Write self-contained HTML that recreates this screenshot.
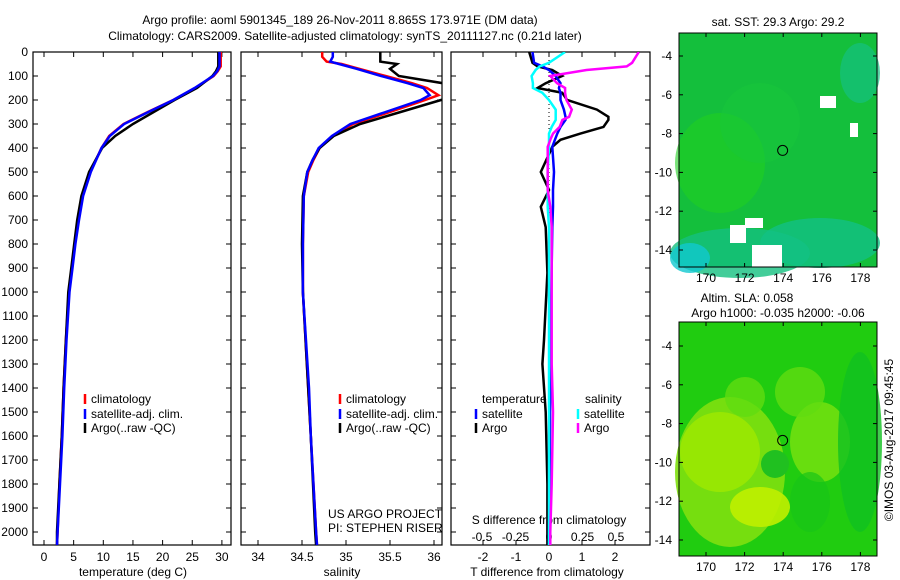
<!DOCTYPE html>
<html><head><meta charset="utf-8"><style>
body{margin:0;background:#fff;}
svg{display:block;font-family:"Liberation Sans",sans-serif;font-size:12px;}
</style></head><body>
<svg id="c" width="900" height="580" xmlns="http://www.w3.org/2000/svg"></svg>
<script>
// ---- data ----
const depthTicks=[0,100,200,300,400,500,600,700,800,900,1000,1100,1200,1300,1400,1500,1600,1700,1800,1900,2000];
const tempTicks=[0,5,10,15,20,25,30];
const salTicks=[34,34.5,35,35.5,36];
const tdTicks=[-2,-1,0,1,2];
const sdTicks=[-0.5,-0.25,0,0.25,0.5];
const lonTicks=[170,172,174,176,178];
const latTicks=[-4,-6,-8,-10,-12,-14];

const tDepth=[0,60,80,100,150,200,250,300,350,400,500,600,700,800,900,1000,1200,1400,1600,1800,2000,2055];
const tClim=[29.8,29.8,29.3,28.6,25.5,21.8,17.5,13.4,11.0,9.7,7.8,6.5,5.8,5.2,4.7,4.2,3.7,3.3,3.0,2.6,2.3,2.2];
const tSat =[29.6,29.6,29.2,28.5,25.4,21.8,17.6,13.5,11.1,9.7,7.9,6.6,5.9,5.3,4.8,4.3,3.8,3.4,3.1,2.7,2.3,2.2];
const tArgo=[29.4,29.4,29.0,28.4,25.8,22.0,18.5,15.0,12.0,9.8,7.6,6.3,5.6,5.1,4.6,4.1,3.7,3.3,3.0,2.6,2.2,2.2];

const sDepth=[0,20,40,50,70,100,130,150,180,200,250,300,350,400,450,500,600,800,1000,1400,1600,2000,2055];
const sClim=[34.73,34.73,34.78,34.95,35.15,35.45,35.75,35.92,36.05,35.9,35.5,35.08,34.85,34.7,34.63,34.57,34.52,34.51,34.51,34.57,34.6,34.66,34.67];
const sSat =[34.85,34.85,34.82,34.92,35.12,35.4,35.7,35.88,35.95,35.85,35.45,35.05,34.84,34.69,34.62,34.56,34.52,34.51,34.51,34.58,34.6,34.66,34.67];
const sArgo=[35.39,35.39,35.39,35.58,35.5,35.6,36.1,36.3,36.3,36.08,35.62,35.16,34.86,34.7,34.62,34.56,34.51,34.50,34.51,34.57,34.6,34.65,34.66];

const dDepth=[0,45,60,75,100,130,150,170,200,240,270,283,312,340,366,395,500,575,645,730,920,1200,1300,1500,1800,2000,2055];
const tdSat =[-0.5,-0.45,-0.2,0,0.2,0.35,0.3,0.35,0.35,0.45,0.5,0.5,0.35,0.25,0.18,0.1,0.15,0.12,0.12,0.1,0.08,0.05,0.05,0.03,0.02,0,0];
const tdArgo=[-0.6,-0.5,-0.35,0.1,0.4,-0.1,-0.35,0.4,0.55,1.45,1.8,1.8,1.65,0.95,0.35,0.1,-0.25,0,-0.25,-0.1,-0.05,-0.15,-0.2,-0.1,-0.05,-0.05,-0.05];
const sdSat =[0.12,0.0,-0.07,-0.1,-0.13,-0.12,-0.12,-0.05,0,0.05,0.05,0.05,0.02,0,0,0,-0.01,-0.01,-0.01,0,0,0,0,0,0,0,0];
const sdArgo=[0.67,0.62,0.58,0.28,0.01,0.06,0.12,0.12,0.13,0.17,0.15,0.1,0.08,0.03,0.01,-0.01,-0.01,-0.01,0.01,0.02,0.02,0.02,0.02,0.03,0.02,0.01,0.01];

// ---- scales ----
const yD=d=>52+d*0.24;
const xT=t=>44+t*5.93;
const xS=s=>258+(s-34)*88;
const xTd=v=>549+v*33;
const xSd=v=>549+v*134;
const m1X=l=>706+(l-170)*19.3, m1Y=a=>56+(-4-a)*19.4;
const m2Y=a=>346+(-4-a)*19.4;

const svg=document.getElementById('c');
const NS='http://www.w3.org/2000/svg';
function mk(tag,attrs,txt){const e=document.createElementNS(NS,tag);for(const k in attrs)e.setAttribute(k,attrs[k]);if(txt!==undefined)e.textContent=txt;svg.appendChild(e);return e;}
function txt(x,y,s,anchor,name){const e=mk('text',{x:x,y:y,'text-anchor':anchor||'start'},s);

return e;}
function line(x1,y1,x2,y2,col,w,name){const e=mk('line',{x1:x1,y1:y1,x2:x2,y2:y2,stroke:col,'stroke-width':w||1});

return e;}
function series(xs,ds,fx,col,name,w){let p=ds.map((d,i)=>fx(xs[i]).toFixed(1)+','+yD(d).toFixed(1)).join(' ');
const e=mk('polyline',{points:p,fill:'none',stroke:col,'stroke-width':w||2.5,'clip-path':'url(#'+cur+')'});

}
let cur='';
const defs=mk('defs',{});
function clip(id,x,y,w,h){const c=document.createElementNS(NS,'clipPath');c.setAttribute('id',id);const r=document.createElementNS(NS,'rect');r.setAttribute('x',x);r.setAttribute('y',y);r.setAttribute('width',w);r.setAttribute('height',h);c.appendChild(r);defs.appendChild(c);}
clip('p1',33,52,198,493);clip('p2',241,52,201,493);clip('p3',451,52,199,493);

// titles
txt(340,24,'Argo profile: aoml 5901345_189 26-Nov-2011 8.865S 173.971E (DM data)','middle','title-line-1');
txt(345,40,'Climatology: CARS2009. Satellite-adjusted climatology: synTS_20111127.nc (0.21d later)','middle','title-line-2');

// panels
const panels=[[33,231,'p1'],[241,442,'p2'],[451,650,'p3']];
panels.forEach(([l,r,id],k)=>{
 const e=mk('rect',{x:l,y:52,width:r-l,height:493,fill:'none',stroke:'#000','stroke-width':1.2});
 
 
 depthTicks.forEach(d=>{line(l,yD(d),l+5,yD(d),'#000',1,'depth-tick');line(r-5,yD(d),r,yD(d),'#000',1,'depth-tick');});
});
depthTicks.forEach(d=>txt(28,yD(d)+4,String(d),'end','depth-label'));
tempTicks.forEach(t=>{line(xT(t),545,xT(t),540,'#000',1,'temp-tick');line(xT(t),52,xT(t),57,'#000',1,'temp-tick');txt(xT(t),561,String(t),'middle','temp-tick-label');});
salTicks.forEach(s=>{line(xS(s),545,xS(s),540,'#000',1,'sal-tick');line(xS(s),52,xS(s),57,'#000',1,'sal-tick');txt(xS(s),561,String(s),'middle','sal-tick-label');});
tdTicks.forEach(v=>{line(xTd(v),545,xTd(v),540,'#000',1,'tdiff-tick');line(xTd(v),52,xTd(v),57,'#000',1,'tdiff-tick');txt(xTd(v),561,String(v),'middle','tdiff-tick-label');});
sdTicks.forEach(v=>txt(xSd(v),541,String(v),'middle','sdiff-tick-label'));
txt(133,576,'temperature (deg C)','middle','temperature-axis-title');
txt(342,576,'salinity','middle','salinity-axis-title');
txt(547,576,'T difference from climatology','middle','tdiff-axis-title');
txt(549,524,'S difference from climatology','middle','sdiff-axis-title');

// zero dotted line
const z=mk('line',{x1:549,y1:52,x2:549,y2:545,stroke:'#000','stroke-width':1,'stroke-dasharray':'1,3'});



cur='p1';
series(tClim,tDepth,xT,'#f00','temp-climatology');
series(tArgo,tDepth,xT,'#000','temp-argo');
series(tSat,tDepth,xT,'#00f','temp-satellite');
cur='p2';
series(sClim,sDepth,xS,'#f00','sal-climatology');
series(sArgo,sDepth,xS,'#000','sal-argo');
series(sSat,sDepth,xS,'#00f','sal-satellite');
cur='p3';
series(tdArgo,dDepth,xTd,'#000','tdiff-argo');
series(tdSat,dDepth,xTd,'#00f','tdiff-satellite');
series(sdSat,dDepth,xSd,'#0ff','sdiff-satellite');
series(sdArgo,dDepth,xSd,'#f0f','sdiff-argo');

// legends
function leg(x,y,col,s,name){line(x,y-9,x,y+1,col,2.5,name+'-marker');txt(x+6,y,s,'start',name);}
[[85,'p1'],[340,'p2']].forEach(([x,p])=>{
 leg(x,403,'#f00','climatology',p+'-legend-climatology');
 leg(x,418,'#00f','satellite-adj. clim.',p+'-legend-satellite');
 leg(x,432,'#000','Argo(..raw -QC)',p+'-legend-argo');
});
txt(482,403,'temperature','start','legend-temperature-header');
txt(585,403,'salinity','start','legend-salinity-header');
leg(476,418,'#00f','satellite','legend-tdiff-satellite');
leg(476,432,'#000','Argo','legend-tdiff-argo');
leg(578,418,'#0ff','satellite','legend-sdiff-satellite');
leg(578,432,'#f0f','Argo','legend-sdiff-argo');
txt(328,518,'US ARGO PROJECT','start','project-label');
txt(328,532,'PI: STEPHEN RISER','start','pi-label');

// maps
function map(top,yf,name,base,blobs,whites){
 const bot=top+234;
 const r=mk('rect',{x:679,y:top,width:198,height:234,fill:base});
 
 
 blobs.forEach(b=>{const e=mk('ellipse',{cx:b[0],cy:top+b[1],rx:b[2],ry:b[3],fill:b[4],opacity:b[5]||0.9});
 
 });
 whites.forEach(w=>{const e=mk('rect',{x:w[0],y:top+w[1],width:w[2],height:w[3],fill:'#fff'});
 
 });
 const f=mk('rect',{x:679,y:top,width:198,height:234,fill:'none',stroke:'#000','stroke-width':1});
 
 
 lonTicks.forEach(l=>{line(m1X(l),bot,m1X(l),bot-4,'#000',1,name+'-lon-tick');line(m1X(l),top,m1X(l),top+4,'#000',1,name+'-lon-tick');txt(m1X(l),bot+15,String(l),'middle',name+'-lon-label');});
 latTicks.forEach(a=>{line(679,yf(a),683,yf(a),'#000',1,name+'-lat-tick');line(873,yf(a),877,yf(a),'#000',1,name+'-lat-tick');txt(672,yf(a)+4,String(a),'end',name+'-lat-label');});
 const c=mk('circle',{cx:m1X(173.971),cy:yf(-8.865),r:5,fill:'none',stroke:'#000','stroke-width':1});
 
 
}
map(33,m1Y,'sst-map','#14bf3c',[
 [720,130,45,50,'#20d020',0.6],[760,90,40,40,'#18c83a',0.5],[740,220,70,25,'#14c080',0.8],[820,210,60,25,'#12c085',0.8],[690,225,20,15,'#10c8d0',0.8],[860,40,20,30,'#14c080',0.7]
],[[730,192,16,18],[745,185,18,10],[752,212,30,22],[850,90,8,14],[820,63,16,12]]);
map(322,m2Y,'sla-map','#20cc10',[
 [730,150,55,75,'#80e010',0.9],[760,185,30,20,'#c0f000',0.9],[720,130,40,40,'#a0e800',0.8],[820,120,30,40,'#70e010',0.9],[800,70,25,25,'#60dc10',0.8],[745,75,20,20,'#60dc10',0.8],[775,142,14,14,'#20c020',1],[860,120,22,90,'#10c020',0.8],[810,180,20,30,'#18c418',0.7]
],[]);
txt(778,26,'sat. SST: 29.3 Argo: 29.2','middle','sst-map-title');
txt(747,302,'Altim. SLA: 0.058','middle','sla-map-title');
txt(778,317,'Argo h1000: -0.035 h2000: -0.06','middle','sla-map-subtitle');
const cr=mk('text',{x:0,y:0,transform:'translate(893,440) rotate(-90)','text-anchor':'middle'},'©IMOS 03-Aug-2017 09:45:45');


</script>
</body></html>
